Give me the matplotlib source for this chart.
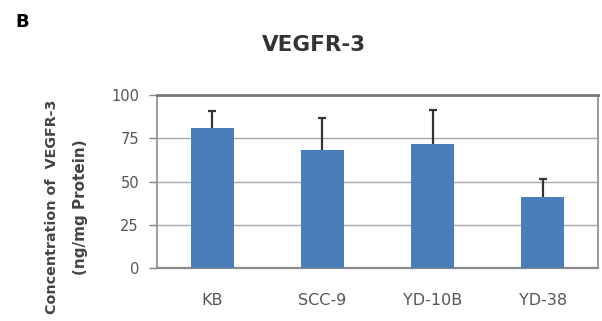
import matplotlib
matplotlib.use("Agg")
import matplotlib.pyplot as plt

cell_lines = ["KB", "SCC-9", "YD-10B", "YD-38"]
vegfr3 = [80.8, 68.2, 71.5, 40.9]
vegfr3_sd = [10.2, 18.7, 19.8, 10.4]
y_ticks = [0, 25, 50, 75, 100]

fig = plt.figure(figsize=(6.02, 3.21), dpi=100)
W, H = 602, 321
ax = fig.add_axes([157 / W, 1 - 268 / H, (598 - 157) / W, (268 - 95) / H])

x = list(range(len(cell_lines)))
ax.bar(x, vegfr3, width=0.39, color="#4a7ebb", zorder=3)
_, caps, _ = ax.errorbar(x, vegfr3, yerr=[[0] * len(vegfr3), vegfr3_sd],
                         fmt="none", ecolor="#333333", elinewidth=1.6,
                         capsize=3, capthick=1.6, zorder=4)
# upper error only: hide the cap that sits on the bar top
caps[0].set_visible(False)

ax.set_xlim(-0.5, 3.5)
ax.set_ylim(0, 100)
ax.set_yticks(y_ticks)
ax.set_yticklabels([str(v) for v in y_ticks])
ax.set_xticks(x)
ax.set_xticklabels(cell_lines)
ax.yaxis.grid(True, color="#a8a8a8", linewidth=1.0, zorder=0)
ax.tick_params(axis="y", length=6, width=1, color="#888888",
               labelsize=10.5, labelcolor="#555555", pad=7)
ax.tick_params(axis="x", length=0, labelsize=11.5, labelcolor="#555555", pad=18)
for s in ax.spines.values():
    s.set_color("#8a8a8a")
    s.set_linewidth(1.2)
ax.spines["top"].set_linewidth(2.0)
ax.spines["top"].set_color("#777777")
ax.spines["bottom"].set_linewidth(1.6)

fig.text(314 / W, 1 - 45 / H, "VEGFR-3", ha="center", va="center",
         fontsize=15.5, fontweight="bold", color="#333333")
fig.text(22 / W, 1 - 22 / H, "B", ha="center", va="center",
         fontsize=13, fontweight="bold", color="black")
fig.text(52 / W, 1 - 207 / H, "Concentration of  VEGFR-3", rotation=90,
         ha="center", va="center", fontsize=10.3, fontweight="bold", color="#444444")
fig.text(81 / W, 1 - 207 / H, "(ng/mg Protein)", rotation=90,
         ha="center", va="center", fontsize=11, fontweight="bold", color="#444444")

fig.savefig("out.png", dpi=100, facecolor="white")
